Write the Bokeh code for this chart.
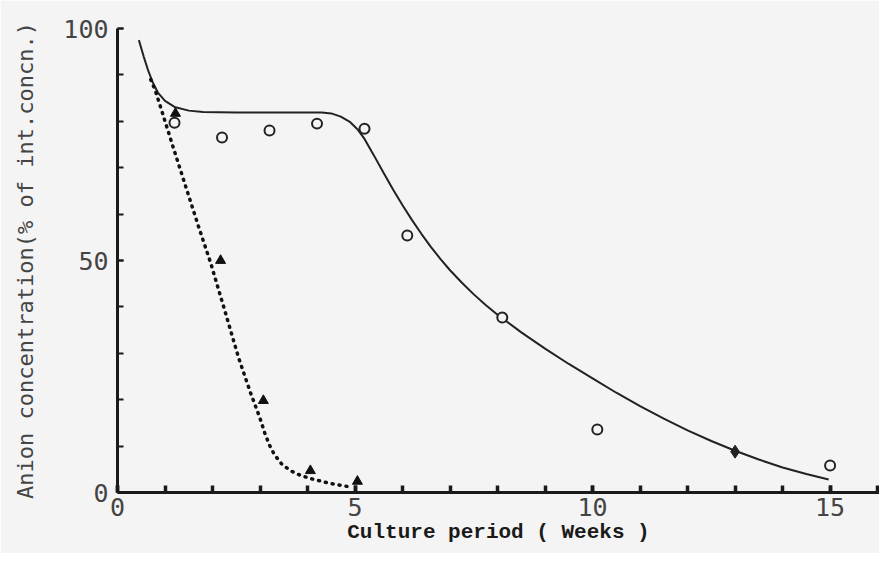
from bokeh.plotting import figure
from bokeh.models import FixedTicker, Range1d
from bokeh.embed import file_html
from bokeh.resources import INLINE

# ---- data ----
# open circles (solid-line series)
circle_weeks = [1.2, 2.2, 3.2, 4.2, 5.2, 6.1, 8.1, 10.1, 15.0]
circle_conc = [79.7, 76.5, 78.0, 79.5, 78.4, 55.4, 37.7, 13.6, 5.8]
# filled diamond on the solid line
diamond_weeks = [13.0]
diamond_conc = [8.8]
# filled triangles (dotted-line series)
tri_weeks = [1.22, 2.17, 3.07, 4.06, 5.05]
tri_conc = [81.7, 50.0, 19.8, 4.7, 2.4]

# hand-drawn fitted curves
solid_weeks = [0.45, 0.55, 0.65, 0.75, 0.85, 1.0, 1.2, 1.5, 1.8, 2.5, 3.5,
               4.3, 4.5, 4.7, 4.9, 5.05, 5.2, 5.4, 5.6, 5.8, 6.0, 6.2, 6.4,
               6.6, 6.8, 7.0, 7.25, 7.5, 7.75, 8.0, 8.5, 9.0, 9.5, 10.0, 10.5,
               11.0, 11.5, 12.0, 12.5, 13.0, 13.5, 14.0, 14.5, 14.97]
solid_conc = [97.5, 94.0, 90.8, 88.2, 86.2, 84.4, 83.1, 82.3, 82.0, 81.9, 81.9,
              81.9, 81.7, 81.0, 79.8, 78.3, 76.2, 72.6, 68.9, 65.3, 61.9, 58.7,
              55.7, 52.9, 50.3, 47.9, 45.2, 42.7, 40.4, 38.3, 34.5, 31.0, 27.7,
              24.6, 21.5, 18.6, 15.9, 13.4, 11.1, 9.0, 7.1, 5.4, 4.0, 2.8]
dotted_weeks = [0.7, 0.8, 0.97, 1.2, 1.45, 1.7, 1.96, 2.25, 2.55, 2.8, 3.0,
                3.1, 3.2, 3.3, 3.45, 3.64, 3.85, 4.1, 4.5, 4.9]
dotted_conc = [89.0, 86.5, 81.0, 73.5, 65.5, 57.5, 49.5, 39.5, 29.0, 21.5, 16.0,
               12.8, 10.2, 8.2, 6.2, 4.7, 3.7, 2.9, 1.9, 1.2]

x_major = [0, 5, 10, 15]
x_minor = list(range(0, 17))
y_major = [0, 50, 100]
y_minor = list(range(0, 101, 10))
x_title = "Culture period ( Weeks )"
y_title = "Anion concentration(% of int.concn.)"

BG = "#f4f4f4"
INK = "#1a1a1a"
LABEL_INK = "#444444"

p = figure(width=879, height=553, output_backend="svg", toolbar_location=None,
           x_range=Range1d(0, 16.04), y_range=Range1d(0, 100),
           min_border_left=117, min_border_top=28, min_border_bottom=61,
           min_border_right=0)
p.background_fill_color = BG
p.border_fill_color = BG
p.outline_line_color = None
p.grid.visible = False

# axes
for ax in (p.xaxis[0], p.yaxis[0]):
    ax.axis_line_color = INK
    ax.axis_line_width = 3
    ax.major_tick_line_color = INK
    ax.minor_tick_line_color = INK
    ax.major_tick_out = 0
    ax.minor_tick_out = 0
    ax.major_label_text_font = "DejaVu Sans Mono"
    ax.major_label_text_font_size = "25px"
    ax.major_label_text_color = LABEL_INK

p.xaxis.ticker = FixedTicker(ticks=x_major, minor_ticks=x_minor)
p.xaxis.major_tick_in = 7
p.xaxis.minor_tick_in = 7
p.xaxis.major_tick_line_width = 3.5
p.xaxis.minor_tick_line_width = 3.5
p.xaxis.major_label_standoff = 5
p.xaxis.axis_label = x_title
p.xaxis.axis_label_text_font = "Liberation Mono"
p.xaxis.axis_label_text_font_style = "bold"
p.xaxis.axis_label_text_font_size = "21px"
p.xaxis.axis_label_text_color = INK
p.xaxis.axis_label_standoff = 2

p.yaxis.ticker = FixedTicker(ticks=y_major, minor_ticks=y_minor)
p.yaxis.major_tick_in = 6
p.yaxis.minor_tick_in = 6
p.yaxis.major_tick_line_width = 2
p.yaxis.minor_tick_line_width = 2
p.yaxis.major_label_standoff = 9
p.yaxis.axis_label = y_title
p.yaxis.axis_label_text_font = "DejaVu Sans Mono"
p.yaxis.axis_label_text_font_style = "normal"
p.yaxis.axis_label_text_font_size = "22px"
p.yaxis.axis_label_text_color = LABEL_INK
p.yaxis.axis_label_standoff = 22

# curves
p.line(solid_weeks, solid_conc, line_color="#222222", line_width=2)
p.line(dotted_weeks, dotted_conc, line_color="#111111", line_width=3.5,
       line_dash="1 6", line_cap="round")

# markers
p.scatter(circle_weeks, circle_conc, marker="circle", size=10,
          fill_color=BG, line_color="#222222", line_width=2)
p.scatter(diamond_weeks, diamond_conc, marker="diamond", size=13,
          fill_color="#222222", line_color="#222222")
p.scatter(tri_weeks, tri_conc, marker="triangle", size=10,
          fill_color="#111111", line_color="#111111")

open("out.html", "w").write(file_html(p, INLINE))
